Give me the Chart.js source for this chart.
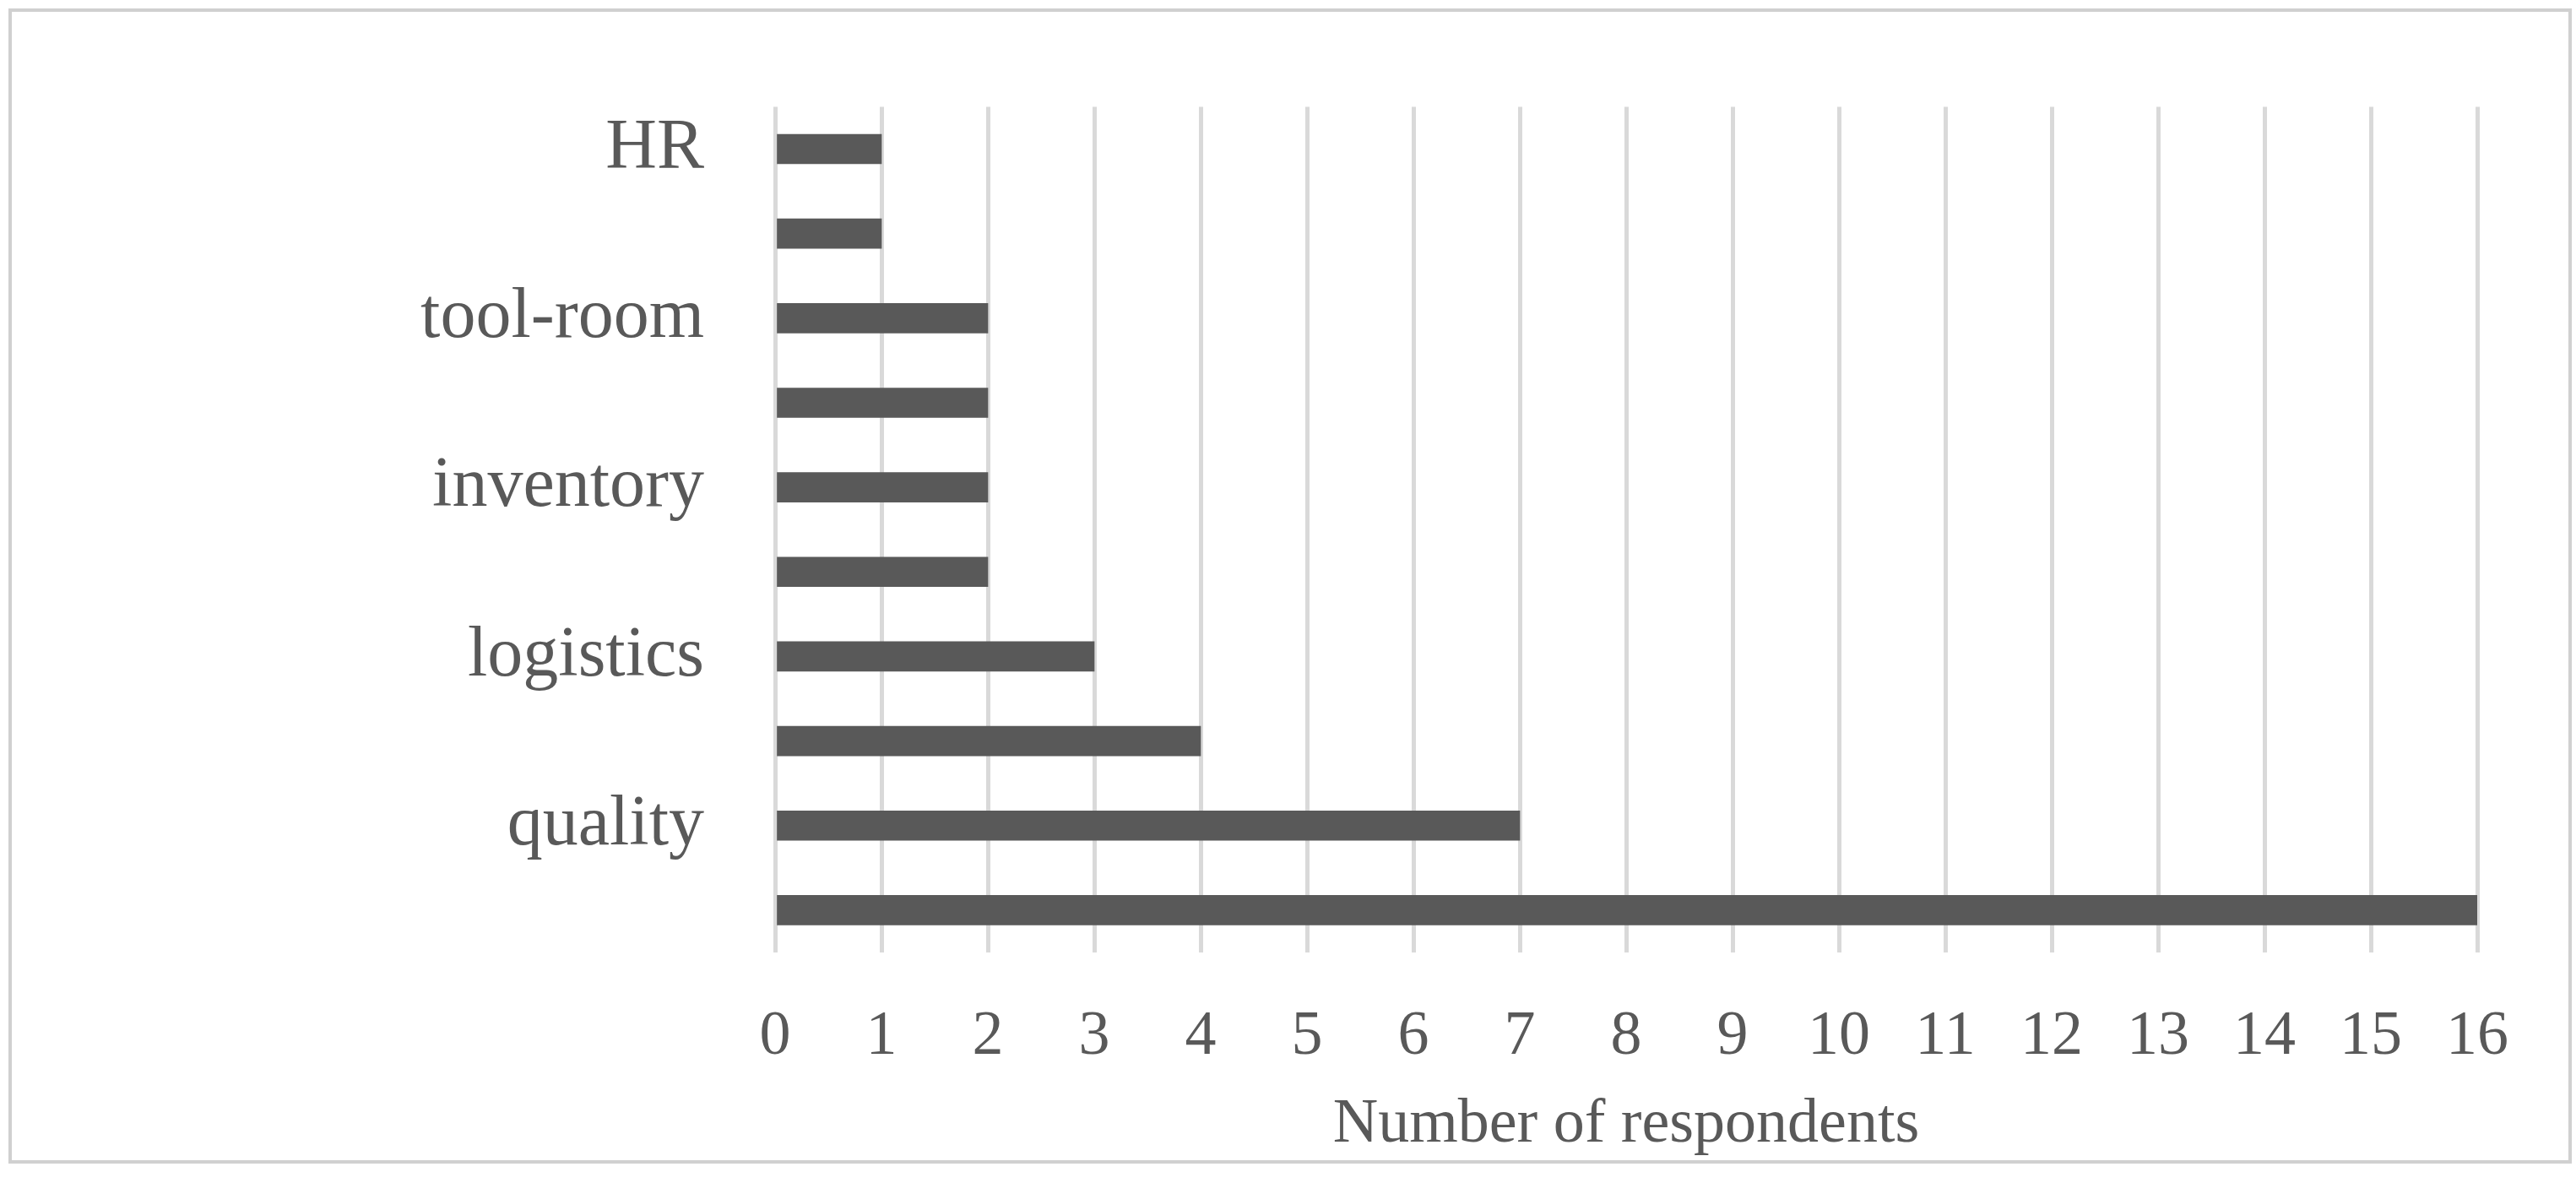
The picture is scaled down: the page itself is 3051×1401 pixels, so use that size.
<!DOCTYPE html>
<html>
<head>
<meta charset="utf-8">
<script src="https://cdn.jsdelivr.net/npm/chart.js@4"></script>
<style>
  html, body { margin: 0; padding: 0; background: #fff; }
  #wrap { position: absolute; left: 10px; top: 10px; width: 3028px; height: 1360px; border: 4px solid #d0d0d0; }
  #c { position: absolute; left: 0; top: 0; }
</style>
</head>
<body>
<div id="wrap"></div>
<canvas id="c" width="3051" height="1401"></canvas>
<script>
let departments = ['HR', 'maintenance', 'tool-room', 'marketing', 'inventory', 'design',
  'logistics', 'production planning', 'quality', 'production'];
let respondents = [1, 1, 2, 2, 2, 2, 3, 4, 7, 16];
let axisTitle = 'Number of respondents';

let fontFamily = '"Liberation Serif", "DejaVu Serif", serif';
let textColor = '#595959';

const config = {
  type: 'bar',
  data: {
    labels: departments,
    datasets: [{
      data: respondents,
      backgroundColor: '#595959',
      barThickness: 35
    }]
  },
  options: {
    indexAxis: 'y',
    responsive: false,
    animation: false,
    layout: { padding: { top: 30, right: 117, left: 0, bottom: 0 } },
    plugins: { legend: { display: false }, tooltip: { enabled: false } },
    scales: {
      x: {
        min: 0,
        max: 16,
        ticks: { stepSize: 1, color: textColor, font: { family: fontFamily, size: 74 }, padding: 56 },
        grid: { color: '#d9d9d9', lineWidth: 5, drawTicks: false },
        border: { display: false },
        title: { display: true, text: axisTitle, color: textColor, font: { family: fontFamily, size: 74 }, padding: { top: 0, bottom: 24 } },
        afterFit: s => { s.height = 1401 - 1128; }
      },
      y: {
        ticks: { color: textColor, font: { family: fontFamily, size: 84 }, padding: 76 },
        grid: { display: false },
        border: { display: false },
        afterFit: s => { s.width = 918; }
      }
    }
  }
};

new Chart(document.getElementById('c'), config);
</script>
</body>
</html>
